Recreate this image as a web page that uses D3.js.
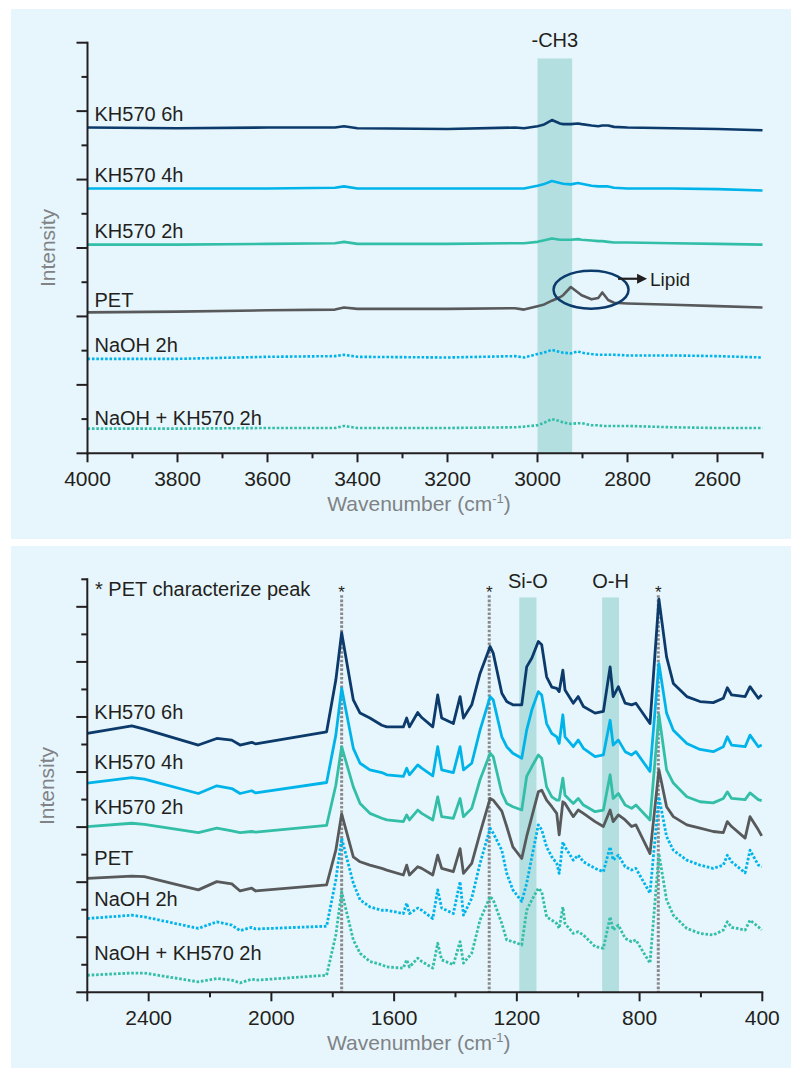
<!DOCTYPE html>
<html><head><meta charset="utf-8">
<script src="https://cdn.jsdelivr.net/npm/d3@7"></script>
<style>
html,body{margin:0;padding:0;background:#fff;}
text{font-family:"Liberation Sans",Arial,sans-serif;}
</style></head>
<body>
<script>
// ---------- DATA ----------
const seriesNames = ["KH570 6h","KH570 4h","KH570 2h","PET","NaOH 2h","NaOH + KH570 2h"];
// top panel (high wavenumber region)
const topWN = [4000,3800,3600,3450,3430,3400,3200,3050,3030,3000,2987,2968,2950,2943,2926,2910,2902,2880,2865,2856,2843,2830,2800,2700,2600,2500];
const topKH6h = [4.76,4.75,4.76,4.76,4.78,4.75,4.74,4.76,4.75,4.78,4.80,4.87,4.82,4.81,4.81,4.82,4.81,4.79,4.78,4.79,4.79,4.77,4.76,4.75,4.74,4.72];
const topKH4h = [3.87,3.87,3.87,3.88,3.90,3.87,3.87,3.87,3.87,3.91,3.93,3.98,3.95,3.94,3.93,3.95,3.94,3.91,3.90,3.90,3.90,3.88,3.87,3.87,3.86,3.84];
const topKH2h = [3.05,3.05,3.06,3.07,3.09,3.06,3.06,3.07,3.07,3.09,3.11,3.14,3.12,3.12,3.12,3.13,3.12,3.11,3.10,3.10,3.09,3.08,3.08,3.07,3.06,3.05];
const topPET  = [2.06,2.07,2.09,2.10,2.13,2.11,2.11,2.12,2.10,2.15,2.17,2.23,2.28,2.31,2.43,2.35,2.31,2.25,2.27,2.35,2.24,2.20,2.19,2.17,2.15,2.13];
const topNaOH = [1.38,1.38,1.41,1.42,1.44,1.41,1.40,1.42,1.40,1.45,1.47,1.51,1.48,1.47,1.46,1.49,1.47,1.45,1.44,1.44,1.44,1.44,1.43,1.43,1.42,1.40];
const topNaOHKH = [0.36,0.36,0.37,0.37,0.40,0.37,0.37,0.38,0.39,0.41,0.44,0.50,0.47,0.45,0.43,0.44,0.44,0.41,0.41,0.40,0.40,0.40,0.40,0.38,0.37,0.37];

// bottom panel (fingerprint region)
const botWN = [2600,2455,2414,2238,2178,2129,2102,2064,2051,1820,1790,1771,1733,1711,1679,1640,1624,1570,1559,1550,1523,1510,1474,1458,1445,1407,1385,1374,1347,1320,1287,1277,1249,1233,1213,1184,1168,1151,1130,1119,1103,1086,1070,1062,1050,1043,1016,1000,983,945,918,896,886,869,847,826,812,766,737,712,690,646,603,560,527,514,500,456,440,413,402];
const botKH6h = [4.70,4.84,4.78,4.49,4.61,4.58,4.49,4.54,4.51,4.73,5.67,6.53,5.31,5.07,4.98,4.85,4.82,4.82,4.98,4.82,5.08,4.99,4.82,5.40,4.98,4.88,5.37,4.98,5.22,5.79,6.28,6.16,5.43,5.28,5.22,5.22,5.91,6.07,6.37,6.31,5.73,5.54,5.52,5.46,5.85,5.49,5.25,5.37,5.19,5.07,5.10,5.91,5.37,5.55,5.25,5.22,5.25,4.88,7.14,6.09,5.61,5.37,5.28,5.26,5.34,5.53,5.40,5.37,5.55,5.34,5.40];
const botKH4h = [3.80,3.90,3.87,3.61,3.75,3.70,3.61,3.66,3.62,3.81,4.67,5.52,4.43,4.16,4.04,3.99,3.95,3.92,4.07,3.95,4.13,4.07,3.93,4.46,4.04,3.99,4.46,4.04,4.16,4.76,5.37,5.31,4.64,4.46,4.34,4.25,4.76,5.13,5.46,5.40,4.88,4.70,4.64,4.52,5.04,4.64,4.46,4.58,4.43,4.28,4.31,4.94,4.49,4.58,4.37,4.31,4.37,4.01,5.97,5.07,4.76,4.52,4.41,4.37,4.46,4.64,4.49,4.46,4.67,4.46,4.49];
const botKH2h = [3.01,3.07,3.05,2.90,2.98,2.93,2.90,2.92,2.91,3.03,3.76,4.46,3.73,3.43,3.25,3.16,3.13,3.10,3.22,3.13,3.31,3.25,3.13,3.55,3.19,3.16,3.52,3.19,3.34,3.86,4.34,4.28,3.62,3.43,3.37,3.31,3.92,4.10,4.31,4.25,3.73,3.55,3.49,3.49,3.89,3.58,3.43,3.52,3.40,3.28,3.31,3.95,3.52,3.61,3.40,3.34,3.40,3.13,5.04,4.04,3.80,3.55,3.46,3.44,3.52,3.64,3.52,3.50,3.62,3.50,3.48];
const botPET  = [2.07,2.11,2.10,1.86,2.01,1.97,1.84,1.89,1.84,1.95,2.58,3.24,2.46,2.37,2.31,2.25,2.22,2.13,2.31,2.13,2.28,2.25,2.13,2.49,2.25,2.19,2.61,2.16,2.34,2.89,3.52,3.49,3.29,3.01,2.64,2.43,2.83,3.19,3.64,3.67,3.49,3.37,3.25,2.86,3.46,3.43,3.19,3.31,3.25,3.10,3.01,3.31,3.10,3.22,3.13,3.01,3.04,2.52,4.04,3.37,3.19,3.04,2.98,2.92,2.90,3.10,3.01,2.80,3.19,2.95,2.84];
const botNaOH = [1.34,1.40,1.37,1.16,1.28,1.22,1.12,1.18,1.15,1.20,2.04,2.80,1.98,1.68,1.55,1.49,1.49,1.43,1.62,1.43,1.53,1.49,1.34,1.86,1.53,1.43,2.01,1.40,1.71,2.34,2.98,2.89,2.58,2.16,1.86,1.65,1.98,2.46,3.04,2.95,2.64,2.46,2.34,2.16,2.73,2.64,2.40,2.49,2.37,2.25,2.19,2.64,2.40,2.49,2.28,2.22,2.25,1.80,3.55,2.83,2.58,2.40,2.31,2.25,2.31,2.49,2.37,2.17,2.58,2.31,2.28];
const botNaOHKH = [0.31,0.35,0.35,0.19,0.25,0.22,0.17,0.24,0.22,0.31,1.04,1.83,0.95,0.71,0.56,0.50,0.46,0.44,0.59,0.46,0.62,0.56,0.44,0.89,0.59,0.50,0.92,0.53,0.71,1.31,1.74,1.68,1.25,0.95,0.92,0.86,1.49,1.68,1.89,1.83,1.37,1.31,1.25,1.16,1.55,1.25,1.07,1.10,1.04,0.83,0.80,1.37,1.13,1.22,0.98,0.92,0.95,0.53,2.52,1.68,1.40,1.16,1.07,1.04,1.13,1.28,1.18,1.13,1.31,1.19,1.13];

// label anchor intensity (where each series label sits)
const topLabelY = [4.85,3.96,3.14,2.14,1.48,0.41];
const botLabelY = [4.96,4.05,3.24,2.31,1.56,0.59];

// x ticks
const topMajor = [4000,3800,3600,3400,3200,3000,2800,2600];
const topMinor = [3900,3700,3500,3300,3100,2900,2700,2500];
const botMajor = [2600,2400,2000,1600,1200,800,400];
const botMinor = [2200,1800,1400,1000,600];
const botLabeled = [2400,2000,1600,1200,800,400];

// annotations
const ch3Band = [3000,2923];
const siOBand = [1192,1136];
const ohBand = [922,867];
const petPeaks = [1771,1290,739];
const lipid = {wn:2881, v:2.39};

// ---------- STYLE ----------
const colors = ["#0b3a6b","#00b4ea","#33bea7","#58595b","#00b4ea","#33bea7"];
const dotted = [false,false,false,false,true,true];
const textCol = "#231f20";
const grayText = "#808285";
const bandCol = "#b3dfe0";

const W = 791, H = 1068;
const svg = d3.select("body").append("svg").attr("width",W).attr("height",H);

function drawPanel(o){
  const g = svg.append("g");
  g.append("rect").attr("x",11).attr("y",o.bgTop).attr("width",W-11).attr("height",o.bgH).attr("fill","#e7f6fd");
  const x = d3.scaleLinear().domain(o.xDomain).range([o.left,o.right]);
  const y = d3.scaleLinear().domain(o.yDomain).range([o.bottom,o.top]);

  // bands
  o.bands.forEach(b=>{
    g.append("rect").attr("x",x(b.r[0])).attr("width",x(b.r[1])-x(b.r[0]))
     .attr("y",y(b.top)).attr("height",y(o.yDomain[0])-y(b.top)).attr("fill",bandCol);
    g.append("text").attr("x",(x(b.r[0])+x(b.r[1]))/2).attr("y",b.ly).attr("text-anchor","middle")
     .attr("font-size",20).attr("fill",textCol).text(b.label);
  });

  // star lines
  (o.stars||[]).forEach(s=>{
    g.append("line").attr("x1",x(s)).attr("x2",x(s)).attr("y1",y(o.starTop)).attr("y2",y(0))
     .attr("stroke","#8a8a8d").attr("stroke-width",3).attr("stroke-dasharray","2.6,1.7");
    g.append("text").attr("x",x(s)).attr("y",y(o.starTop)+3).attr("text-anchor","middle")
     .attr("font-size",17).attr("fill",textCol).text("*");
  });

  // series
  const line = d3.line().x(d=>x(d[0])).y(d=>y(d[1]));
  o.series.forEach((vals,i)=>{
    const pts = o.wn.map((w,j)=>[w,vals[j]]);
    g.append("path").datum(pts).attr("d",line).attr("fill","none")
     .attr("stroke",colors[i]).attr("stroke-width",o.lw)
     .attr("stroke-linejoin","round")
     .attr("stroke-dasharray",dotted[i]?"2.6,1.8":null);
  });

  // series labels
  seriesNames.forEach((n,i)=>{
    g.append("text").attr("x",o.left+7).attr("y",y(o.labelY[i])).attr("font-size",20)
     .attr("fill",textCol).text(n);
  });

  // axes
  const ax = g.append("g").attr("stroke",textCol).attr("stroke-width",2);
  ax.append("line").attr("x1",o.left).attr("x2",o.left).attr("y1",o.top-1).attr("y2",o.bottom+1);
  ax.append("line").attr("x1",o.left-1).attr("x2",o.right+1).attr("y1",o.bottom).attr("y2",o.bottom);
  const yMaj = d3.range(o.yDomain[0],o.yDomain[1]+0.001,1);
  const yMin = d3.range(o.yDomain[0]+0.5,o.yDomain[1]+0.001,1);
  yMaj.forEach(v=>ax.append("line").attr("x1",o.left-11).attr("x2",o.left).attr("y1",y(v)).attr("y2",y(v)));
  yMin.forEach(v=>ax.append("line").attr("x1",o.left-6).attr("x2",o.left).attr("y1",y(v)).attr("y2",y(v)));
  o.xMajor.forEach(v=>ax.append("line").attr("x1",x(v)).attr("x2",x(v)).attr("y1",o.bottom).attr("y2",o.bottom+9));
  o.xMinor.forEach(v=>ax.append("line").attr("x1",x(v)).attr("x2",x(v)).attr("y1",o.bottom).attr("y2",o.bottom+5));
  o.xLabels.forEach(v=>g.append("text").attr("x",x(v)).attr("y",o.bottom+33).attr("text-anchor","middle")
    .attr("font-size",21).attr("fill",textCol).text(v));

  // axis titles
  const xt = g.append("text").attr("x",(o.left+o.right)/2-6).attr("y",o.bottom+58).attr("text-anchor","middle")
    .attr("font-size",21).attr("fill",grayText);
  xt.append("tspan").text("Wavenumber (cm");
  xt.append("tspan").attr("font-size",13).attr("dy",-8).text("-1");
  xt.append("tspan").attr("dy",8).text(")");
  g.append("text").attr("transform",`translate(${o.left-33},${o.ytitleY}) rotate(-90)`)
    .attr("text-anchor","middle").attr("font-size",21).attr("fill",grayText).text("Intensity");
  return {g,x,y};
}

// top panel
const P1 = drawPanel({
  bgTop:9,bgH:530,left:87.5,right:762.5,top:42.7,bottom:453.3,
  xDomain:[4000,2500],yDomain:[0,6],
  wn:topWN,series:[topKH6h,topKH4h,topKH2h,topPET,topNaOH,topNaOHKH],
  labelY:topLabelY,lw:2.6,
  bands:[{r:ch3Band,top:5.77,label:"-CH3",ly:47}],
  xMajor:topMajor,xMinor:topMinor,xLabels:topMajor,ytitleY:248
});
// lipid annotation
{
  const {g,x,y} = P1;
  const cx = x(lipid.wn), cy = y(lipid.v);
  g.append("ellipse").attr("cx",cx).attr("cy",cy).attr("rx",37.5).attr("ry",19)
   .attr("fill","none").attr("stroke","#0b3a6b").attr("stroke-width",2.5);
  const ay = cy-11;
  g.append("line").attr("x1",cx+27).attr("x2",cx+48).attr("y1",ay).attr("y2",ay)
   .attr("stroke",textCol).attr("stroke-width",2.2);
  g.append("path").attr("d",`M${cx+56},${ay} L${cx+46},${ay-5} L${cx+46},${ay+5} Z`).attr("fill",textCol);
  g.append("text").attr("x",cx+59).attr("y",cy-4).attr("font-size",19).attr("fill",textCol).text("Lipid");
}

// bottom panel
const P2 = drawPanel({
  bgTop:546,bgH:522,left:87.3,right:762.3,top:579.3,bottom:992.3,
  xDomain:[2600,400],yDomain:[0,7.5],
  wn:botWN,series:[botKH6h,botKH4h,botKH2h,botPET,botNaOH,botNaOHKH],
  labelY:botLabelY,lw:2.8,
  bands:[{r:siOBand,top:7.17,label:"Si-O",ly:588},{r:ohBand,top:7.17,label:"O-H",ly:588}],
  stars:petPeaks,starTop:7.21,
  xMajor:botMajor,xMinor:botMinor,xLabels:botLabeled,ytitleY:786
});
P2.g.append("text").attr("x",95).attr("y",596).attr("font-size",20).attr("fill",textCol).text("* PET characterize peak");
</script>
</body></html>
